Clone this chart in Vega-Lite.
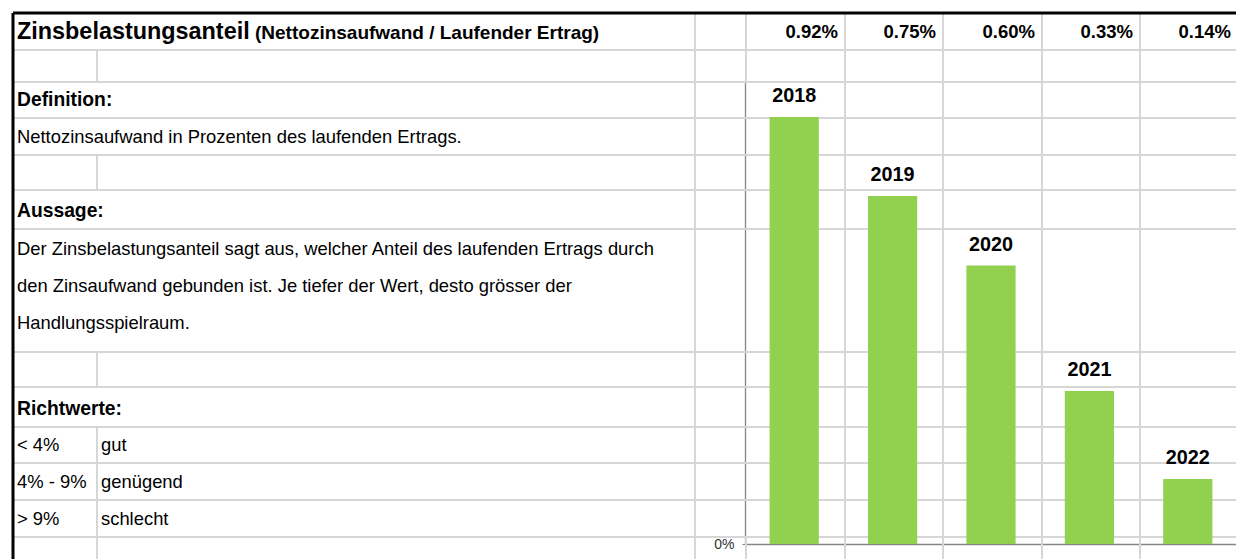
{
  "$schema": "https://vega.github.io/schema/vega-lite/v6.json",
  "width": 1236,
  "height": 559,
  "autosize": {"type": "none"},
  "padding": 0,
  "background": "white",
  "config": {
    "view": {"stroke": null},
    "font": "Liberation Sans, Arial, sans-serif",
    "text": {"font": "Liberation Sans, Arial, sans-serif", "color": "#000000"}
  },
  "datasets": {
    "hlines": [{"b": 1}, {"b": 2}, {"b": 3}, {"b": 4}, {"b": 5}, {"b": 6}, {"b": 10}, {"b": 11}, {"b": 12}, {"b": 13}, {"b": 14}, {"b": 15}],
    "vlines": [
      {"k": 1, "b0": 1, "b1": 2}, {"k": 1, "b0": 4, "b1": 5}, {"k": 1, "b0": 10, "b1": 11}, {"k": 1, "b0": 12, "b1": 16},
      {"k": 2, "b0": 0, "b1": 16},
      {"k": 3, "b0": 0, "b1": 2}, {"k": 3, "b0": 15, "b1": 16},
      {"k": 4, "b0": 0, "b1": 16}, {"k": 5, "b0": 0, "b1": 16}, {"k": 6, "b0": 0, "b1": 16}, {"k": 7, "b0": 0, "b1": 16}
    ],
    "outline_h": [{"b": 0}],
    "outline_v": [{"k": 0, "b0": 0, "b1": 16}],
    "cells": [
      {"kind": "title", "b1": 1, "k0": 0, "k1": 3, "text": "Zinsbelastungsanteil"},
      {"kind": "subtitle", "b1": 1, "k0": 0, "k1": 3, "text": "(Nettozinsaufwand / Laufender Ertrag)"},
      {"kind": "number", "b1": 1, "k0": 3, "k1": 4, "text": "0.92%"},
      {"kind": "number", "b1": 1, "k0": 4, "k1": 5, "text": "0.75%"},
      {"kind": "number", "b1": 1, "k0": 5, "k1": 6, "text": "0.60%"},
      {"kind": "number", "b1": 1, "k0": 6, "k1": 7, "text": "0.33%"},
      {"kind": "number", "b1": 1, "k0": 7, "k1": 8, "text": "0.14%"},
      {"kind": "heading", "b1": 3, "k0": 0, "k1": 3, "text": "Definition:"},
      {"kind": "body", "b1": 4, "k0": 0, "k1": 3, "text": "Nettozinsaufwand in Prozenten des laufenden Ertrags."},
      {"kind": "heading", "b1": 6, "k0": 0, "k1": 3, "text": "Aussage:"},
      {"kind": "body", "b1": 7, "k0": 0, "k1": 3, "text": "Der Zinsbelastungsanteil sagt aus, welcher Anteil des laufenden Ertrags durch"},
      {"kind": "body", "b1": 8, "k0": 0, "k1": 3, "text": "den Zinsaufwand gebunden ist. Je tiefer der Wert, desto grösser der"},
      {"kind": "body", "b1": 9, "k0": 0, "k1": 3, "text": "Handlungsspielraum."},
      {"kind": "heading", "b1": 12, "k0": 0, "k1": 3, "text": "Richtwerte:"},
      {"kind": "body", "b1": 13, "k0": 0, "k1": 1, "text": "< 4%"},
      {"kind": "body", "b1": 13, "k0": 1, "k1": 2, "text": "gut"},
      {"kind": "body", "b1": 14, "k0": 0, "k1": 1, "text": "4% - 9%"},
      {"kind": "body", "b1": 14, "k0": 1, "k1": 2, "text": "genügend"},
      {"kind": "body", "b1": 15, "k0": 0, "k1": 1, "text": "> 9%"},
      {"kind": "body", "b1": 15, "k0": 1, "k1": 2, "text": "schlecht"}
    ],
    "bars": [
      {"year": "2018", "value": 0.92},
      {"year": "2019", "value": 0.75},
      {"year": "2020", "value": 0.60},
      {"year": "2021", "value": 0.33},
      {"year": "2022", "value": 0.14}
    ]
  },
  "layer": [
    {
      "layer": [
        {
          "data": {"name": "hlines"},
          "mark": {"type": "rule", "color": "#d6d6d6", "strokeWidth": 2},
          "encoding": {
            "y": {"field": "b", "type": "quantitative", "scale": {"domain": [0,1,2,3,4,5,6,7,8,9,10,11,12,13,14,15,16], "range": [13,50,82,118,155,190,229,267,304,341,352,387,427,463,500,537,574], "nice": false, "zero": false}, "axis": null},
            "x": {"datum": 0, "type": "quantitative", "scale": {"domain": [0,1,2,3,4,5,6,7,8], "range": [13,97,695,746,845,943,1042,1140,1238], "nice": false, "zero": false}, "axis": null},
            "x2": {"datum": 8}
          }
        },
        {
          "data": {"name": "vlines"},
          "mark": {"type": "rule", "color": "#d6d6d6", "strokeWidth": 2},
          "encoding": {
            "x": {"field": "k", "type": "quantitative"},
            "y": {"field": "b0", "type": "quantitative"},
            "y2": {"field": "b1"}
          }
        },
        {
          "data": {"name": "outline_h"},
          "mark": {"type": "rule", "color": "#000000", "strokeWidth": 3},
          "encoding": {
            "y": {"field": "b", "type": "quantitative"},
            "x": {"datum": 0, "type": "quantitative"},
            "x2": {"datum": 8}
          }
        },
        {
          "data": {"name": "outline_v"},
          "mark": {"type": "rule", "color": "#000000", "strokeWidth": 3},
          "encoding": {
            "x": {"field": "k", "type": "quantitative"},
            "y": {"field": "b0", "type": "quantitative"},
            "y2": {"field": "b1"}
          }
        },
        {
          "data": {"name": "cells"},
          "transform": [{"filter": "datum.kind === 'title'"}],
          "mark": {"type": "text", "align": "left", "baseline": "middle", "dx": 4, "dy": -18, "fontSize": 23.4, "fontWeight": "bold"},
          "encoding": {
            "x": {"field": "k0", "type": "quantitative"},
            "y": {"field": "b1", "type": "quantitative"},
            "text": {"field": "text"}
          }
        },
        {
          "data": {"name": "cells"},
          "transform": [{"filter": "datum.kind === 'subtitle'"}],
          "mark": {"type": "text", "align": "left", "baseline": "middle", "dx": 242, "dy": -17, "fontSize": 19, "fontWeight": "bold"},
          "encoding": {
            "x": {"field": "k0", "type": "quantitative"},
            "y": {"field": "b1", "type": "quantitative"},
            "text": {"field": "text"}
          }
        },
        {
          "data": {"name": "cells"},
          "transform": [{"filter": "datum.kind === 'heading'"}],
          "mark": {"type": "text", "align": "left", "baseline": "middle", "dx": 4, "dy": -18, "fontSize": 19.3, "fontWeight": "bold"},
          "encoding": {
            "x": {"field": "k0", "type": "quantitative"},
            "y": {"field": "b1", "type": "quantitative"},
            "text": {"field": "text"}
          }
        },
        {
          "data": {"name": "cells"},
          "transform": [{"filter": "datum.kind === 'body'"}],
          "mark": {"type": "text", "align": "left", "baseline": "middle", "dx": 4, "dy": -18, "fontSize": 18.4},
          "encoding": {
            "x": {"field": "k0", "type": "quantitative"},
            "y": {"field": "b1", "type": "quantitative"},
            "text": {"field": "text"}
          }
        },
        {
          "data": {"name": "cells"},
          "transform": [{"filter": "datum.kind === 'number'"}],
          "mark": {"type": "text", "align": "right", "baseline": "middle", "dx": -7, "dy": -18, "fontSize": 18.5, "fontWeight": "bold"},
          "encoding": {
            "x": {"field": "k1", "type": "quantitative"},
            "y": {"field": "b1", "type": "quantitative"},
            "text": {"field": "text"}
          }
        }
      ]
    },
    {
      "data": {"name": "bars"},
      "encoding": {
        "x": {
          "field": "year", "type": "ordinal", "sort": null,
          "scale": {"type": "band", "range": [745, 1237], "paddingInner": 0.5, "paddingOuter": 0.25},
          "axis": {"orient": "bottom", "offset": -15, "labels": false, "ticks": false, "title": null, "grid": false, "domainColor": "#868686", "domainWidth": 1.3}
        },
        "y": {
          "field": "value", "type": "quantitative",
          "scale": {"domain": [0, 1], "range": [544, 80], "nice": false, "zero": true},
          "axis": {"orient": "left", "offset": -745, "values": [0], "labelExpr": "datum.value + '%'", "title": null, "grid": false, "ticks": true, "tickSize": 3, "tickColor": "#868686", "domainColor": "#868686", "domainWidth": 1.3, "labelFont": "Liberation Sans, Arial, sans-serif", "labelFontSize": 14, "labelColor": "#333333", "labelPadding": 8}
        }
      },
      "layer": [
        {"mark": {"type": "bar", "color": "#92d050"}},
        {
          "mark": {"type": "text", "align": "center", "baseline": "middle", "dy": -21, "fontSize": 19.8, "fontWeight": "bold"},
          "encoding": {"text": {"field": "year"}}
        }
      ]
    }
  ],
  "resolve": {"scale": {"x": "independent", "y": "independent"}}
}
